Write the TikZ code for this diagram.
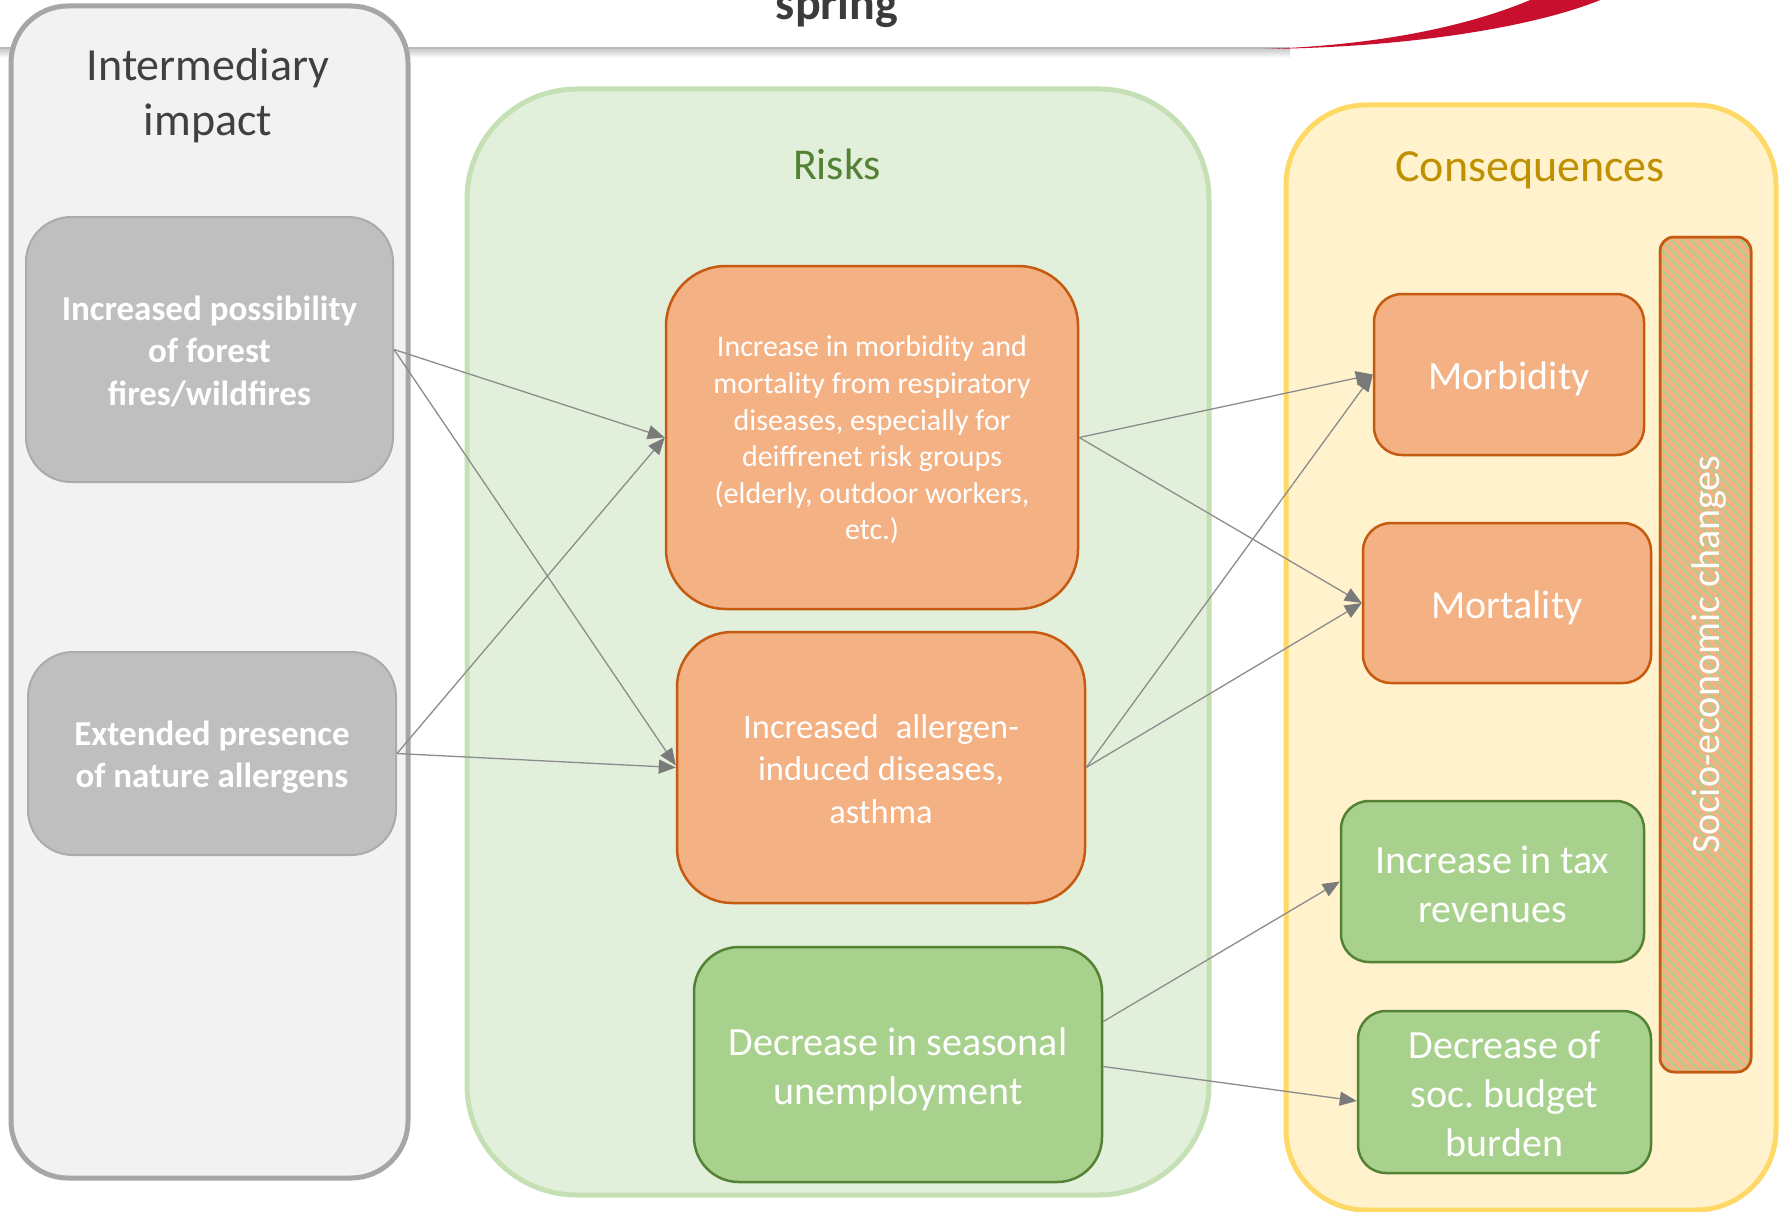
\documentclass[tikz,border=0pt]{standalone}
\usepackage{fontspec}
\setmainfont{Carlito}
\frenchspacing
\usetikzlibrary{arrows.meta,patterns.meta}
\definecolor{gpanF}{HTML}{F2F2F2}
\definecolor{gpanB}{HTML}{A6A6A6}
\definecolor{gnodF}{HTML}{BFBFBF}
\definecolor{gnodB}{HTML}{ABABAB}
\definecolor{rpanF}{HTML}{E2EFDA}
\definecolor{rpanB}{HTML}{C5E0B4}
\definecolor{ypanF}{HTML}{FFF2CC}
\definecolor{ypanB}{HTML}{FFD966}
\definecolor{orF}{HTML}{F4B183}
\definecolor{orB}{HTML}{C55A11}
\definecolor{grF}{HTML}{A9D18E}
\definecolor{grB}{HTML}{548235}
\definecolor{risktxt}{HTML}{548235}
\definecolor{constxt}{HTML}{BF9000}
\definecolor{inttxt}{HTML}{404040}
\definecolor{arrgray}{HTML}{8C8C8C}
\definecolor{headgray}{HTML}{7A7A7A}
\definecolor{hdred}{HTML}{C8102E}
\definecolor{springtxt}{HTML}{3B3B3B}
\begin{document}
\begin{tikzpicture}[x=1pt,y=-1pt,
  panel/.style={line width=5pt, inner sep=0pt},
  gbox/.style={draw=gnodB, fill=gnodF, line width=2pt, rounded corners=45pt, inner sep=0pt},
  gtxt/.style={text=white, align=center, inner sep=0pt, font=\fontsize{35}{42.5}\selectfont\bfseries},
  obox/.style={draw=orB, fill=orF, line width=2.5pt, inner sep=0pt},
  grbox/.style={draw=grB, fill=grF, line width=2.5pt, inner sep=0pt},
  wtxt/.style={text=white, align=center, inner sep=0pt},
  conn/.style={draw=arrgray, line width=1.3pt, -{Triangle[length=17pt,width=14pt,color=headgray]}},
  ttl/.style={font=\fontsize{46}{55}\selectfont, align=center, inner sep=0pt}
]
\useasboundingbox (0,0) rectangle (1785,1212);
\clip (0,0) rectangle (1785,1212);
\fill[white] (0,0) rectangle (1785,1212);

% header band
\shade[top color=gray!45, bottom color=white] (0,48) rectangle (1290,58);
\draw[gray!55, line width=2pt] (0,48) -- (1290,48);
\fill[hdred] (1265,49) .. controls (1430,47) and (1550,22) .. (1605,-2) -- (1535,-2)
  .. controls (1470,26) and (1380,45) .. (1265,49) -- cycle;
\node[anchor=base, font=\fontsize{48}{50}\selectfont\bfseries, text=springtxt, inner sep=0pt] (spr) at (837,20) {spring};

% panels
\node[panel, draw=gpanB, fill=gpanF, rounded corners=57pt, minimum width=397pt, minimum height=1172pt] (pint) at (209.5,592) {};
\node[panel, draw=rpanB, fill=rpanF, rounded corners=110pt, minimum width=742pt, minimum height=1106pt] (prisk) at (838,642) {};
\node[panel, draw=ypanB, fill=ypanF, rounded corners=80pt, minimum width=490pt, minimum height=1105pt] (pcons) at (1531,657.5) {};

% titles
\node[ttl, text=inttxt] (tint) at (208,96) {Intermediary\\impact};
\node[ttl, text=risktxt, font=\fontsize{44}{50}\selectfont] (trisk) at (837,164) {Risks};
\node[ttl, text=constxt] (tcons) at (1530,170) {Consequences};

% intermediary nodes
\node[gbox, minimum width=367pt, minimum height=265pt] (a) at (209.5,349.5) {};
\node[gtxt] (at) at ([yshift=-2pt]a.center) {Increased possibility\\of forest\\fires/wildfires};
\node[gbox, minimum width=368pt, minimum height=203pt] (b) at (212,753.5) {};
\node[gtxt] (bt) at ([yshift=-3.5pt]b.center) {Extended presence\\of nature allergens};

% risk nodes
\node[obox, rounded corners=60pt, minimum width=412pt, minimum height=343pt] (r1) at (872,437.5) {};
\node[wtxt, font=\fontsize{30}{36.6}\selectfont] (r1t) at ([yshift=-2.5pt]r1.center)
  {Increase in morbidity and\\mortality from respiratory\\diseases, especially for\\deiffrenet risk groups\\(elderly, outdoor workers,\\etc.)};
\node[obox, rounded corners=55pt, minimum width=408pt, minimum height=271pt] (r2) at (881,767.5) {};
\node[wtxt, font=\fontsize{34.5}{42.2}\selectfont] (r2t) at ([yshift=-1.5pt]r2.center)
  {Increased\hspace{0.5em}allergen-\\induced diseases,\\asthma};
\node[grbox, rounded corners=45pt, minimum width=408pt, minimum height=235pt] (r3) at (898,1064.5) {};
\node[wtxt, font=\fontsize{40}{49}\selectfont] (r3t) at ([yshift=-5pt]r3.center)
  {Decrease in seasonal\\unemployment};

% consequence nodes
\node[obox, rounded corners=28pt, minimum width=270pt, minimum height=161pt] (c1) at (1509,374.5) {};
\node[wtxt, font=\fontsize{40}{49}\selectfont] (c1t) at ([yshift=-4.5pt]c1.center) {Morbidity};
\node[obox, rounded corners=28pt, minimum width=288pt, minimum height=160pt] (c2) at (1507,603) {};
\node[wtxt, font=\fontsize{40}{49}\selectfont] (c2t) at ([yshift=-4.5pt]c2.center) {Mortality};
\node[grbox, rounded corners=28pt, minimum width=303pt, minimum height=161pt] (c3) at (1492.5,881.5) {};
\node[wtxt, font=\fontsize{40}{49}\selectfont] (c3t) at ([yshift=-2.5pt]c3.center) {Increase in tax\\revenues};
\node[grbox, rounded corners=28pt, minimum width=293pt, minimum height=162pt] (c4) at (1504.5,1092) {};
\node[wtxt, font=\fontsize{40}{49}\selectfont] (c4t) at ([yshift=-2pt]c4.center) {Decrease of\\soc. budget\\burden};

% socio-economic bar
\node[draw=orB, fill=orF, line width=2.5pt, rounded corners=14pt, minimum width=91pt,
  minimum height=835pt, inner sep=0pt] (bar) at (1705.5,654.5) {};
\fill[pattern={Lines[angle=-45,distance=7pt,line width=2pt]}, pattern color=grF,
  rounded corners=13pt] (1661.5,238.5) rectangle (1749.5,1070.5);
\draw[orB, line width=2.5pt, rounded corners=14pt] (1660,237) rectangle (1751,1072);
\node[rotate=90, text=white, font=\fontsize{40}{49}\selectfont, inner sep=0pt] (bart) at ([xshift=4pt]bar.center) {Socio-economic changes};

% connectors
\draw[conn] (a.east) -- (r1.west);
\draw[conn] (a.east) -- ([yshift=2pt]r2.west);
\draw[conn] (b.east) -- (r1.west);
\draw[conn] (b.east) -- (r2.west);
\draw[conn] (r1.east) -- (c1.west);
\draw[conn] (r1.east) -- (c2.west);
\draw[conn] (r2.east) -- (c1.west);
\draw[conn] (r2.east) -- (c2.west);
\draw[conn] ([yshift=43pt]r3.east) -- (c3.west);
\draw[conn] ([yshift=-2pt]r3.east) -- ([yshift=-9pt]c4.west);
\end{tikzpicture}
\end{document}
